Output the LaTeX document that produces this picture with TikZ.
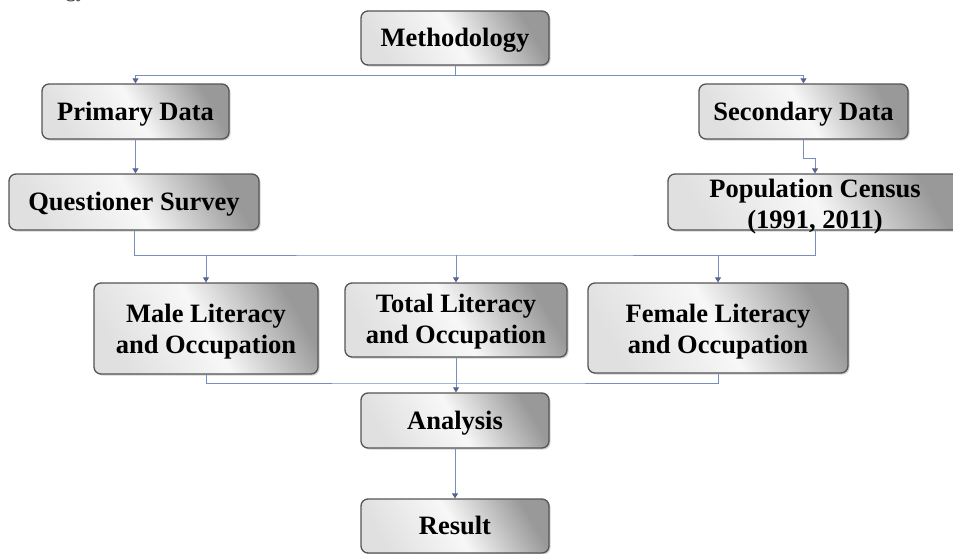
\documentclass[tikz,border=0pt]{standalone}
\usepackage{fontspec}
\setmainfont{Liberation Serif}
\usetikzlibrary{arrows.meta,shadows}
\definecolor{connc}{RGB}{120,142,195}
\definecolor{tipc}{RGB}{85,100,145}
\definecolor{edgec}{RGB}{85,85,85}
\tikzset{
  box/.style={draw=edgec, line width=1.3pt, rounded corners=7pt,
    top color=black!40, bottom color=black!12, middle color=black!3, shading angle=-60,
    drop shadow={shadow xshift=1.5pt, shadow yshift=-1.5pt, opacity=0.35},
    inner sep=0pt, font=\fontsize{26.5}{31}\selectfont\bfseries, align=center},
  one/.style={box, text height=17.5pt, text depth=0pt},
  link/.style={draw=connc, line width=0.9pt},
  arr/.style={link, -{Triangle[width=6pt,length=5pt,color=tipc]}}
}
\begin{document}
\begin{tikzpicture}[x=1pt,y=-1pt]
\fill[white] (0,0) rectangle (953,554);
\useasboundingbox (0,0) rectangle (953,554);
\node[font=\fontsize{20}{20}\selectfont\bfseries, anchor=base west, inner sep=0pt, text=black!70] (frag) at (66,-2) {gy};

\node[one, minimum width=188pt, minimum height=54pt] (meth) at (455,38) {Methodology};
\node[one, minimum width=187pt, minimum height=55pt] (prim) at (135.5,111.5) {Primary Data};
\node[one, minimum width=250pt, minimum height=56pt] (ques) at (134,202) {Questioner Survey};
\node[one, minimum width=209pt, minimum height=55pt] (sec) at (803.5,111.5) {Secondary Data};
\node[box, minimum width=294pt, text height=54pt, text depth=2pt] (pop) at (815,202) {Population Census\\(1991, 2011)};
\node[box, minimum width=224pt, text height=70pt, text depth=21pt] (male) at (206,328.5) {Male Literacy\\and Occupation};
\node[box, minimum width=222pt, text height=60pt, text depth=14pt] (total) at (456,320) {Total Literacy\\and Occupation};
\node[box, minimum width=260pt, text height=70pt, text depth=20pt] (fem) at (718,328) {Female Literacy\\and Occupation};
\node[one, minimum width=188pt, minimum height=55pt] (anal) at (455,420.5) {Analysis};
\node[one, minimum width=188pt, minimum height=54pt] (res) at (455,526) {Result};

\draw[arr] (meth.south) -- ++(0,10) -| (prim.north);
\draw[arr] (meth.south) -- ++(0,10) -| (sec.north);
\draw[arr] (prim.south) -- (prim.south |- ques.north);
\draw[arr] (sec.south) -- ++(0,19) -| (pop.north);
\coordinate (bus1) at (455,255);
\draw[link] (ques.south) |- (bus1) -| (pop.south);
\draw[arr] (male.north |- bus1) -- (male.north);
\draw[arr] (total.north |- bus1) -- (total.north);
\draw[arr] (fem.north |- bus1) -- (fem.north);
\coordinate (bus2) at (455,383);
\draw[link] (male.south) |- (bus2) -| (fem.south);
\draw[arr] (total.south) -- (total.south |- anal.north);
\draw[arr] (anal.south) -- (res.north);
\end{tikzpicture}
\end{document}
